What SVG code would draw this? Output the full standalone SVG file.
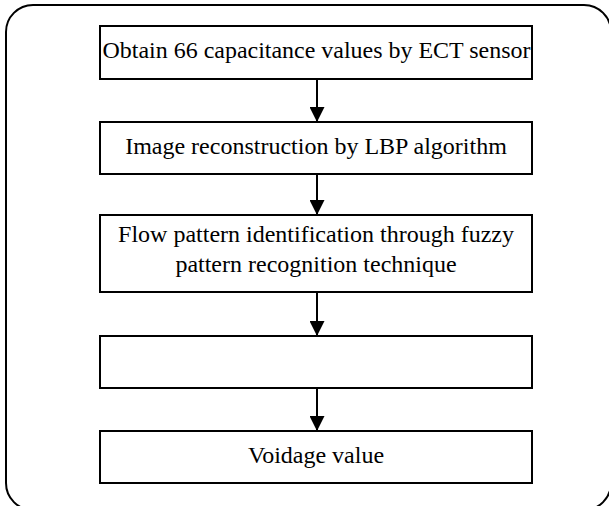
<svg xmlns="http://www.w3.org/2000/svg" width="609" height="506" viewBox="0 0 609 506">
<defs>
<style>
.box{fill:#fff;stroke:#000;stroke-width:2}
.t{font-family:"Liberation Serif","Times New Roman",serif;font-size:24px;fill:#000;text-anchor:middle}
.c{stroke:#000;stroke-width:2;fill:none}
</style>
<marker id="ah" markerWidth="14" markerHeight="15" refX="14" refY="7.5" orient="auto" markerUnits="userSpaceOnUse">
<path d="M0,0 L15,7.5 L0,15 z" fill="#000"/>
</marker>
</defs>
<rect x="6" y="5" width="605" height="505" rx="27" ry="27" fill="#fff" stroke="#000" stroke-width="2"/>
<g id="n1"><rect class="box" x="100" y="26" width="432" height="53"/><text class="t" x="316.5" y="58" textLength="428" lengthAdjust="spacingAndGlyphs">Obtain 66 capacitance values by ECT sensor</text></g>
<g id="n2"><rect class="box" x="100" y="122" width="432" height="52"/><text class="t" x="316" y="154">Image reconstruction by LBP algorithm</text></g>
<g id="n3"><rect class="box" x="100" y="215" width="432" height="77"/><text class="t" x="316" y="242">Flow pattern identification through fuzzy</text><text class="t" x="316" y="272">pattern recognition technique</text></g>
<g id="n4"><rect class="box" x="100" y="336" width="432" height="52"/></g>
<g id="n5"><rect class="box" x="100" y="431" width="432" height="52"/><text class="t" x="316" y="463">Voidage value</text></g>
<g id="connectors">
<line class="c" x1="317" y1="79" x2="317" y2="121" marker-end="url(#ah)"/>
<line class="c" x1="317" y1="174" x2="317" y2="214" marker-end="url(#ah)"/>
<line class="c" x1="317" y1="292" x2="317" y2="335" marker-end="url(#ah)"/>
<line class="c" x1="317" y1="388" x2="317" y2="430" marker-end="url(#ah)"/>
</g>
</svg>
